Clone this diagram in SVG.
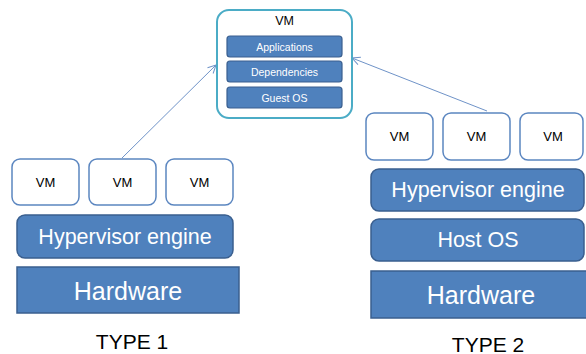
<svg xmlns="http://www.w3.org/2000/svg" width="586" height="354" viewBox="0 0 586 354">
<style>
.vm{fill:#fff;stroke:#5b86c0;stroke-width:1.5}
.blk{fill:#4f81bd;stroke:#3a5f8f;stroke-width:1.5}
.bar{fill:#4f81bd;stroke:#3a5f8f;stroke-width:1.2}
.t{font-family:"Liberation Sans",Arial,sans-serif;text-anchor:middle;dominant-baseline:central}
.tv{font-size:13px;fill:#000}
.tw{fill:#fff}
.hy{font-size:21.5px}
.hw{font-size:25px}
.ty{font-size:21px;fill:#000}
.conn{stroke:#6f93c8;stroke-width:1;fill:none}
</style>
<defs>
<marker id="arr" markerWidth="10" markerHeight="10" refX="9" refY="5" orient="auto" markerUnits="userSpaceOnUse">
<path d="M1,1 L9,5 L1,9" fill="none" stroke="#6f93c8" stroke-width="1"/>
</marker>
</defs>
<rect width="586" height="354" fill="#fff"/>
<g id="connectors">
<line class="conn" x1="122" y1="158" x2="216" y2="65" marker-end="url(#arr)"/>
<line class="conn" x1="487" y1="111" x2="352" y2="58" marker-end="url(#arr)"/>
</g>
<g id="vm-detail">
<rect x="217" y="10" width="135" height="108" rx="12" fill="#fff" stroke="#4bacc6" stroke-width="2"/>
<text class="t" x="284.5" y="21" font-size="12.5">VM</text>
<rect class="bar" x="227" y="36" width="115" height="21" rx="3"/>
<text class="t tw" x="284.5" y="46.5" font-size="10.5">Applications</text>
<rect class="bar" x="227" y="61" width="115" height="21" rx="3"/>
<text class="t tw" x="284.5" y="71.5" font-size="10.5">Dependencies</text>
<rect class="bar" x="227" y="87" width="115" height="21" rx="3"/>
<text class="t tw" x="284.5" y="97.5" font-size="10.5">Guest OS</text>
</g>
<g id="t1-vm1"><rect class="vm" x="12" y="159" width="67" height="46" rx="8"/><text class="t tv" x="45.5" y="182">VM</text></g>
<g id="t1-vm2"><rect class="vm" x="89" y="159" width="67" height="46" rx="8"/><text class="t tv" x="122.5" y="182">VM</text></g>
<g id="t1-vm3"><rect class="vm" x="166" y="159" width="67" height="46" rx="8"/><text class="t tv" x="199.5" y="182">VM</text></g>
<g id="t1-hyp"><rect class="blk" x="17" y="215" width="216" height="43" rx="8"/><text class="t tw hy" x="125" y="237">Hypervisor engine</text></g>
<g id="t1-hw"><rect class="blk" x="17" y="267" width="222" height="46"/><text class="t tw hw" x="128" y="291">Hardware</text></g>
<g id="t1-label"><text class="t ty" x="132" y="341">TYPE 1</text></g>
<g id="t2-vm1"><rect class="vm" x="366" y="113" width="67" height="47" rx="8"/><text class="t tv" x="399.5" y="136">VM</text></g>
<g id="t2-vm2"><rect class="vm" x="443" y="113" width="67" height="47" rx="8"/><text class="t tv" x="476.5" y="136">VM</text></g>
<g id="t2-vm3"><rect class="vm" x="520" y="113" width="63" height="47" rx="8"/><text class="t tv" x="553" y="136">VM</text></g>
<g id="t2-hyp"><rect class="blk" x="371" y="169" width="213" height="42" rx="8"/><text class="t tw hy" x="478" y="190">Hypervisor engine</text></g>
<g id="t2-host"><rect class="blk" x="371" y="219" width="213" height="42" rx="8"/><text class="t tw hy" x="478" y="240">Host OS</text></g>
<g id="t2-hw"><rect class="blk" x="371" y="271" width="217" height="47"/><text class="t tw hw" x="481" y="295">Hardware</text></g>
<g id="t2-label"><text class="t ty" x="488" y="344">TYPE 2</text></g>
</svg>
